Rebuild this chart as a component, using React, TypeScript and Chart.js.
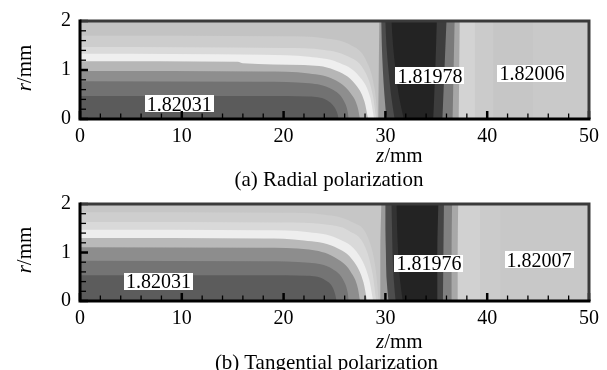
import React, { useEffect, useRef } from 'react';
import { Chart, registerables } from 'chart.js';

Chart.register(...registerables);

type Pt = [number, number]; // [z (mm), r (mm)]

const SERIF = '"Liberation Serif", "Times New Roman", serif';

// ---------- axes ----------
const Z_MIN = 0;
const Z_MAX = 50;
const Z_TICK_STEP = 2;
const Z_LABELLED = [0, 10, 20, 30, 40, 50];
const R_MIN = 0;
const R_MAX = 2;
const R_TICK_STEP = 0.2;
const R_LABELLED = [0, 1, 2];

// ---------- panel (a): radial polarization ----------
// near-vertical contour boundaries (painted right to left), points [z, r]
const aV1: Pt[] = [[50, 0], [50, 2]];
const aV2: Pt[] = [[44.5, 0], [44.5, 2]];
const aV3: Pt[] = [[40.6, 0], [40.6, 2]];
const aV4: Pt[] = [[38.8, 0], [38.8, 2]];
const aV5: Pt[] = [[37.2, 0], [37.25, 1], [37.3, 2]];
const aV6: Pt[] = [[36.6, 0], [36.7, 1], [36.8, 2]];
const aV7: Pt[] = [[35.6, 0], [35.8, 1], [36.0, 2]];
const aV8: Pt[] = [[34.7, 0], [34.9, 1], [35.05, 2]];
const aV9: Pt[] = [[31.8, 0], [31.3, 0.5], [31.0, 1], [30.75, 1.5], [30.6, 2]];
const aV10: Pt[] = [[30.9, 0], [30.55, 0.5], [30.3, 1], [30.1, 1.5], [30.0, 2]];
const aV11: Pt[] = [[30.1, 0], [29.9, 0.5], [29.75, 1], [29.65, 1.5], [29.6, 2]];
const aV12: Pt[] = [[29.3, 0], [29.35, 1], [29.4, 2]];
// nested L-shaped contour boundaries (outermost first), points [z, r]
const aC7: Pt[] = [[0, 1.7], [20, 1.69], [24, 1.65], [26.5, 1.52], [28.1, 1.2], [28.95, 0.6], [29.25, 0]];
const aC6: Pt[] = [[0, 1.47], [20, 1.45], [24, 1.41], [26.3, 1.28], [27.9, 1.0], [28.75, 0.5], [29.1, 0]];
const aC5: Pt[] = [[0, 1.33], [18, 1.31], [22.5, 1.27], [25.3, 1.16], [27.4, 0.88], [28.5, 0.45], [28.9, 0]];
const aC4: Pt[] = [[0, 1.18], [15.5, 1.17], [16, 1.14], [22, 1.1], [25, 1.0], [27.0, 0.72], [27.95, 0.35], [28.3, 0]];
const aC3: Pt[] = [[0, 0.98], [18, 0.97], [22.5, 0.93], [25, 0.8], [26.6, 0.52], [27.3, 0.22], [27.5, 0]];
const aC2: Pt[] = [[0, 0.77], [18, 0.76], [22.5, 0.73], [24.8, 0.6], [25.9, 0.38], [26.3, 0.15], [26.4, 0]];
const aC1: Pt[] = [[0, 0.47], [18, 0.47], [22.5, 0.46], [24.3, 0.38], [25.0, 0.24], [25.3, 0.1], [25.4, 0]];
const aLabelText = ['1.82031', '1.81978', '1.82006'];
const aLabelZ = [9.74, 34.38, 44.4];
const aLabelR = [0.31, 0.88, 0.93];

// ---------- panel (b): tangential polarization ----------
const bV1: Pt[] = [[50, 0], [50, 2]];
const bV2: Pt[] = [[41.3, 0], [41.3, 2]];
const bV3: Pt[] = [[39.3, 0], [39.3, 2]];
const bV4: Pt[] = [[37.1, 0], [37.1, 1], [37.15, 2]];
const bV5: Pt[] = [[36.5, 0], [36.5, 1], [36.55, 2]];
const bV6: Pt[] = [[35.65, 0], [35.7, 1], [35.75, 2]];
const bV7: Pt[] = [[35.1, 0], [35.1, 1], [35.2, 2]];
const bV8: Pt[] = [[31.7, 0], [31.4, 0.5], [31.25, 1], [31.15, 1.5], [31.1, 2]];
const bV9: Pt[] = [[31.0, 0], [30.8, 0.5], [30.7, 1], [30.65, 1.5], [30.6, 2]];
const bV10: Pt[] = [[30.3, 0], [30.1, 0.5], [30.05, 1], [30.0, 1.5], [30.0, 2]];
const bV11: Pt[] = [[29.5, 0], [29.5, 1], [29.6, 2]];
const bC7: Pt[] = [[0, 1.83], [20, 1.82], [24, 1.78], [26.6, 1.64], [28.3, 1.3], [29.05, 0.65], [29.35, 0]];
const bC6: Pt[] = [[0, 1.63], [20, 1.62], [24, 1.58], [26.4, 1.45], [28.0, 1.12], [28.75, 0.55], [29.1, 0]];
const bC5: Pt[] = [[0, 1.47], [18, 1.46], [22.5, 1.42], [25.3, 1.29], [27.4, 0.95], [28.4, 0.45], [28.8, 0]];
const bC4: Pt[] = [[0, 1.3], [18, 1.29], [22, 1.25], [25, 1.12], [26.95, 0.8], [27.85, 0.38], [28.2, 0]];
const bC3: Pt[] = [[0, 1.11], [18, 1.1], [22.5, 1.06], [25, 0.9], [26.6, 0.6], [27.3, 0.26], [27.5, 0]];
const bC2: Pt[] = [[0, 0.83], [18, 0.82], [22.5, 0.79], [24.8, 0.66], [25.9, 0.42], [26.3, 0.17], [26.4, 0]];
const bC1: Pt[] = [[0, 0.53], [18, 0.53], [22.3, 0.52], [24.1, 0.43], [24.85, 0.27], [25.1, 0.11], [25.2, 0]];
const bLabelText = ['1.82031', '1.81976', '1.82007'];
const bLabelZ = [7.71, 34.28, 45.09];
const bLabelR = [0.41, 0.78, 0.85];

// ---------- styles ----------
const aVertColors = ['#c9c9c9', '#c6c6c6', '#cbcbcb', '#d3d3d3', '#a6a6a6', '#7a7a7a', '#3d3d3d', '#232323', '#333333', '#4d4d4d', '#9b9b9b', '#c3c3c3'];
const aCurveColors = ['#cdcdcd', '#dadada', '#efefef', '#b6b6b6', '#8e8e8e', '#727272', '#5b5b5b'];
const bVertColors = ['#c8c8c8', '#cbcbcb', '#d1d1d1', '#a8a8a8', '#808080', '#444444', '#232323', '#333333', '#4d4d4d', '#9b9b9b', '#c6c6c6'];
const bCurveColors = ['#cecece', '#d9d9d9', '#eeeeee', '#b9b9b9', '#8d8d8d', '#747474', '#5c5c5c'];

const near = (list: number[], v: number) => list.find((l) => Math.abs(l - v) < 1e-6);

interface PanelProps {
  top: number;
  height: number;
  padTop: number;
  axisH: number;
  verts: Pt[][];
  vertColors: string[];
  curves: Pt[][];
  curveColors: string[];
  labelText: string[];
  labelZ: number[];
  labelR: number[];
}

function ContourPanel(p: PanelProps) {
  const ref = useRef<HTMLCanvasElement>(null);
  useEffect(() => {
    const canvas = ref.current;
    if (!canvas) return;
    const common = {
      fill: 'origin',
      borderWidth: 0,
      borderColor: 'rgba(0,0,0,0)',
      pointRadius: 0,
      pointHoverRadius: 0,
      cubicInterpolationMode: 'monotone',
    };
    const datasets: any[] = [];
    p.verts.forEach((pts, i) => {
      datasets.push({ ...common, indexAxis: 'y', backgroundColor: p.vertColors[i], data: pts.map(([z, r]) => ({ x: z, y: r })) });
    });
    p.curves.forEach((pts, i) => {
      datasets.push({ ...common, indexAxis: 'x', backgroundColor: p.curveColors[i], data: pts.map(([z, r]) => ({ x: z, y: r })) });
    });
    const n = datasets.length;
    datasets.forEach((d, i) => {
      d.order = n - i;
    });

    const frame = {
      id: 'frame',
      afterDatasetsDraw(chart: any) {
        const ctx = chart.ctx as CanvasRenderingContext2D;
        const { left, right, top, bottom } = chart.chartArea;
        const xs = chart.scales.x;
        const ys = chart.scales.y;
        ctx.save();
        // contour value labels
        ctx.font = `20px ${SERIF}`;
        ctx.textAlign = 'center';
        ctx.textBaseline = 'alphabetic';
        p.labelText.forEach((t, i) => {
          const cx = xs.getPixelForValue(p.labelZ[i]);
          const cy = ys.getPixelForValue(p.labelR[i]);
          const w = ctx.measureText(t).width;
          ctx.fillStyle = '#ffffff';
          ctx.fillRect(Math.round(cx - w / 2 - 2), Math.round(cy - 8.5), Math.round(w + 4), 17);
          ctx.fillStyle = '#000000';
          ctx.fillText(t, cx, cy + 6.8);
        });
        // inward tick marks
        ctx.strokeStyle = '#000000';
        xs.ticks.forEach((t: any) => {
          const major = near(Z_LABELLED, t.value) !== undefined;
          const px = xs.getPixelForValue(t.value);
          ctx.lineWidth = major ? 2.5 : 1.3;
          ctx.beginPath();
          ctx.moveTo(px, bottom);
          ctx.lineTo(px, bottom - (major ? 8 : 5.5));
          ctx.stroke();
        });
        ys.ticks.forEach((t: any) => {
          const major = near(R_LABELLED, t.value) !== undefined;
          const py = ys.getPixelForValue(t.value);
          ctx.lineWidth = major ? 2.5 : 1.3;
          ctx.beginPath();
          ctx.moveTo(left, py);
          ctx.lineTo(left + (major ? 8 : 6), py);
          ctx.stroke();
        });
        // frame
        ctx.lineWidth = 3;
        ctx.strokeStyle = '#3a3a3a';
        ctx.beginPath();
        ctx.moveTo(left, top);
        ctx.lineTo(right, top);
        ctx.lineTo(right, bottom);
        ctx.stroke();
        ctx.strokeStyle = '#000000';
        ctx.beginPath();
        ctx.moveTo(left, top - 1.5);
        ctx.lineTo(left, bottom);
        ctx.lineTo(right + 1.5, bottom);
        ctx.stroke();
        ctx.restore();
      },
    };

    const tickFont = { size: 20, family: SERIF };
    const chart = new Chart(canvas, {
      type: 'line',
      data: { datasets },
      options: {
        responsive: false,
        animation: false,
        events: [],
        layout: { padding: { top: p.padTop, left: 50, right: 18, bottom: 0 } },
        plugins: { legend: { display: false }, tooltip: { enabled: false } },
        scales: {
          x: {
            type: 'linear',
            min: Z_MIN,
            max: Z_MAX,
            afterFit: (s: any) => {
              s.height = p.axisH;
            },
            grid: { display: false, drawTicks: false },
            border: { display: false },
            ticks: {
              stepSize: Z_TICK_STEP,
              autoSkip: false,
              maxRotation: 0,
              padding: 6,
              color: '#000',
              font: tickFont,
              callback: (v: any) => {
                const k = near(Z_LABELLED, Number(v));
                return k === undefined ? '' : String(k);
              },
            },
          },
          y: {
            type: 'linear',
            min: R_MIN,
            max: R_MAX,
            afterFit: (s: any) => {
              s.width = 30;
            },
            grid: { display: false, drawTicks: false },
            border: { display: false },
            ticks: {
              stepSize: R_TICK_STEP,
              autoSkip: false,
              padding: 9,
              color: '#000',
              font: tickFont,
              callback: (v: any) => {
                const k = near(R_LABELLED, Number(v));
                return k === undefined ? '' : String(k);
              },
            },
          },
        },
      } as any,
      plugins: [frame],
    });
    return () => chart.destroy();
  }, []);
  return (
    <canvas
      ref={ref}
      width={607}
      height={p.height}
      style={{ position: 'absolute', left: 0, top: p.top, width: 607, height: p.height, display: 'block' }}
    />
  );
}

const txt: React.CSSProperties = {
  position: 'absolute',
  fontFamily: SERIF,
  fontSize: 21,
  lineHeight: 1,
  whiteSpace: 'nowrap',
  color: '#000',
};

export default function App() {
  return (
    <div style={{ position: 'absolute', left: 0, top: 0, width: 607, height: 370, background: '#fff', overflow: 'hidden' }}>
      <ContourPanel
        top={0}
        height={183}
        padTop={17}
        axisH={64}
        verts={[aV1, aV2, aV3, aV4, aV5, aV6, aV7, aV8, aV9, aV10, aV11, aV12]}
        vertColors={aVertColors}
        curves={[aC7, aC6, aC5, aC4, aC3, aC2, aC1]}
        curveColors={aCurveColors}
        labelText={aLabelText}
        labelZ={aLabelZ}
        labelR={aLabelR}
      />
      <ContourPanel
        top={183}
        height={187}
        padTop={16}
        axisH={69}
        verts={[bV1, bV2, bV3, bV4, bV5, bV6, bV7, bV8, bV9, bV10, bV11]}
        vertColors={bVertColors}
        curves={[bC7, bC6, bC5, bC4, bC3, bC2, bC1]}
        curveColors={bCurveColors}
        labelText={bLabelText}
        labelZ={bLabelZ}
        labelR={bLabelR}
      />
      <div style={{ ...txt, left: 24.4, top: 68, transform: 'translate(-50%, -50%) rotate(-90deg)' }}>
        <i>r</i>/mm
      </div>
      <div style={{ ...txt, left: 24.4, top: 250, transform: 'translate(-50%, -50%) rotate(-90deg)' }}>
        <i>r</i>/mm
      </div>
      <div style={{ ...txt, left: 376, top: 145 }}>
        <i>z</i>/mm
      </div>
      <div style={{ ...txt, left: 376, top: 330.5 }}>
        <i>z</i>/mm
      </div>
      <div style={{ ...txt, left: 129, width: 400, textAlign: 'center', top: 168.5 }}>(a) Radial polarization</div>
      <div style={{ ...txt, left: 126.5, width: 400, textAlign: 'center', top: 352 }}>(b) Tangential polarization</div>
    </div>
  );
}
